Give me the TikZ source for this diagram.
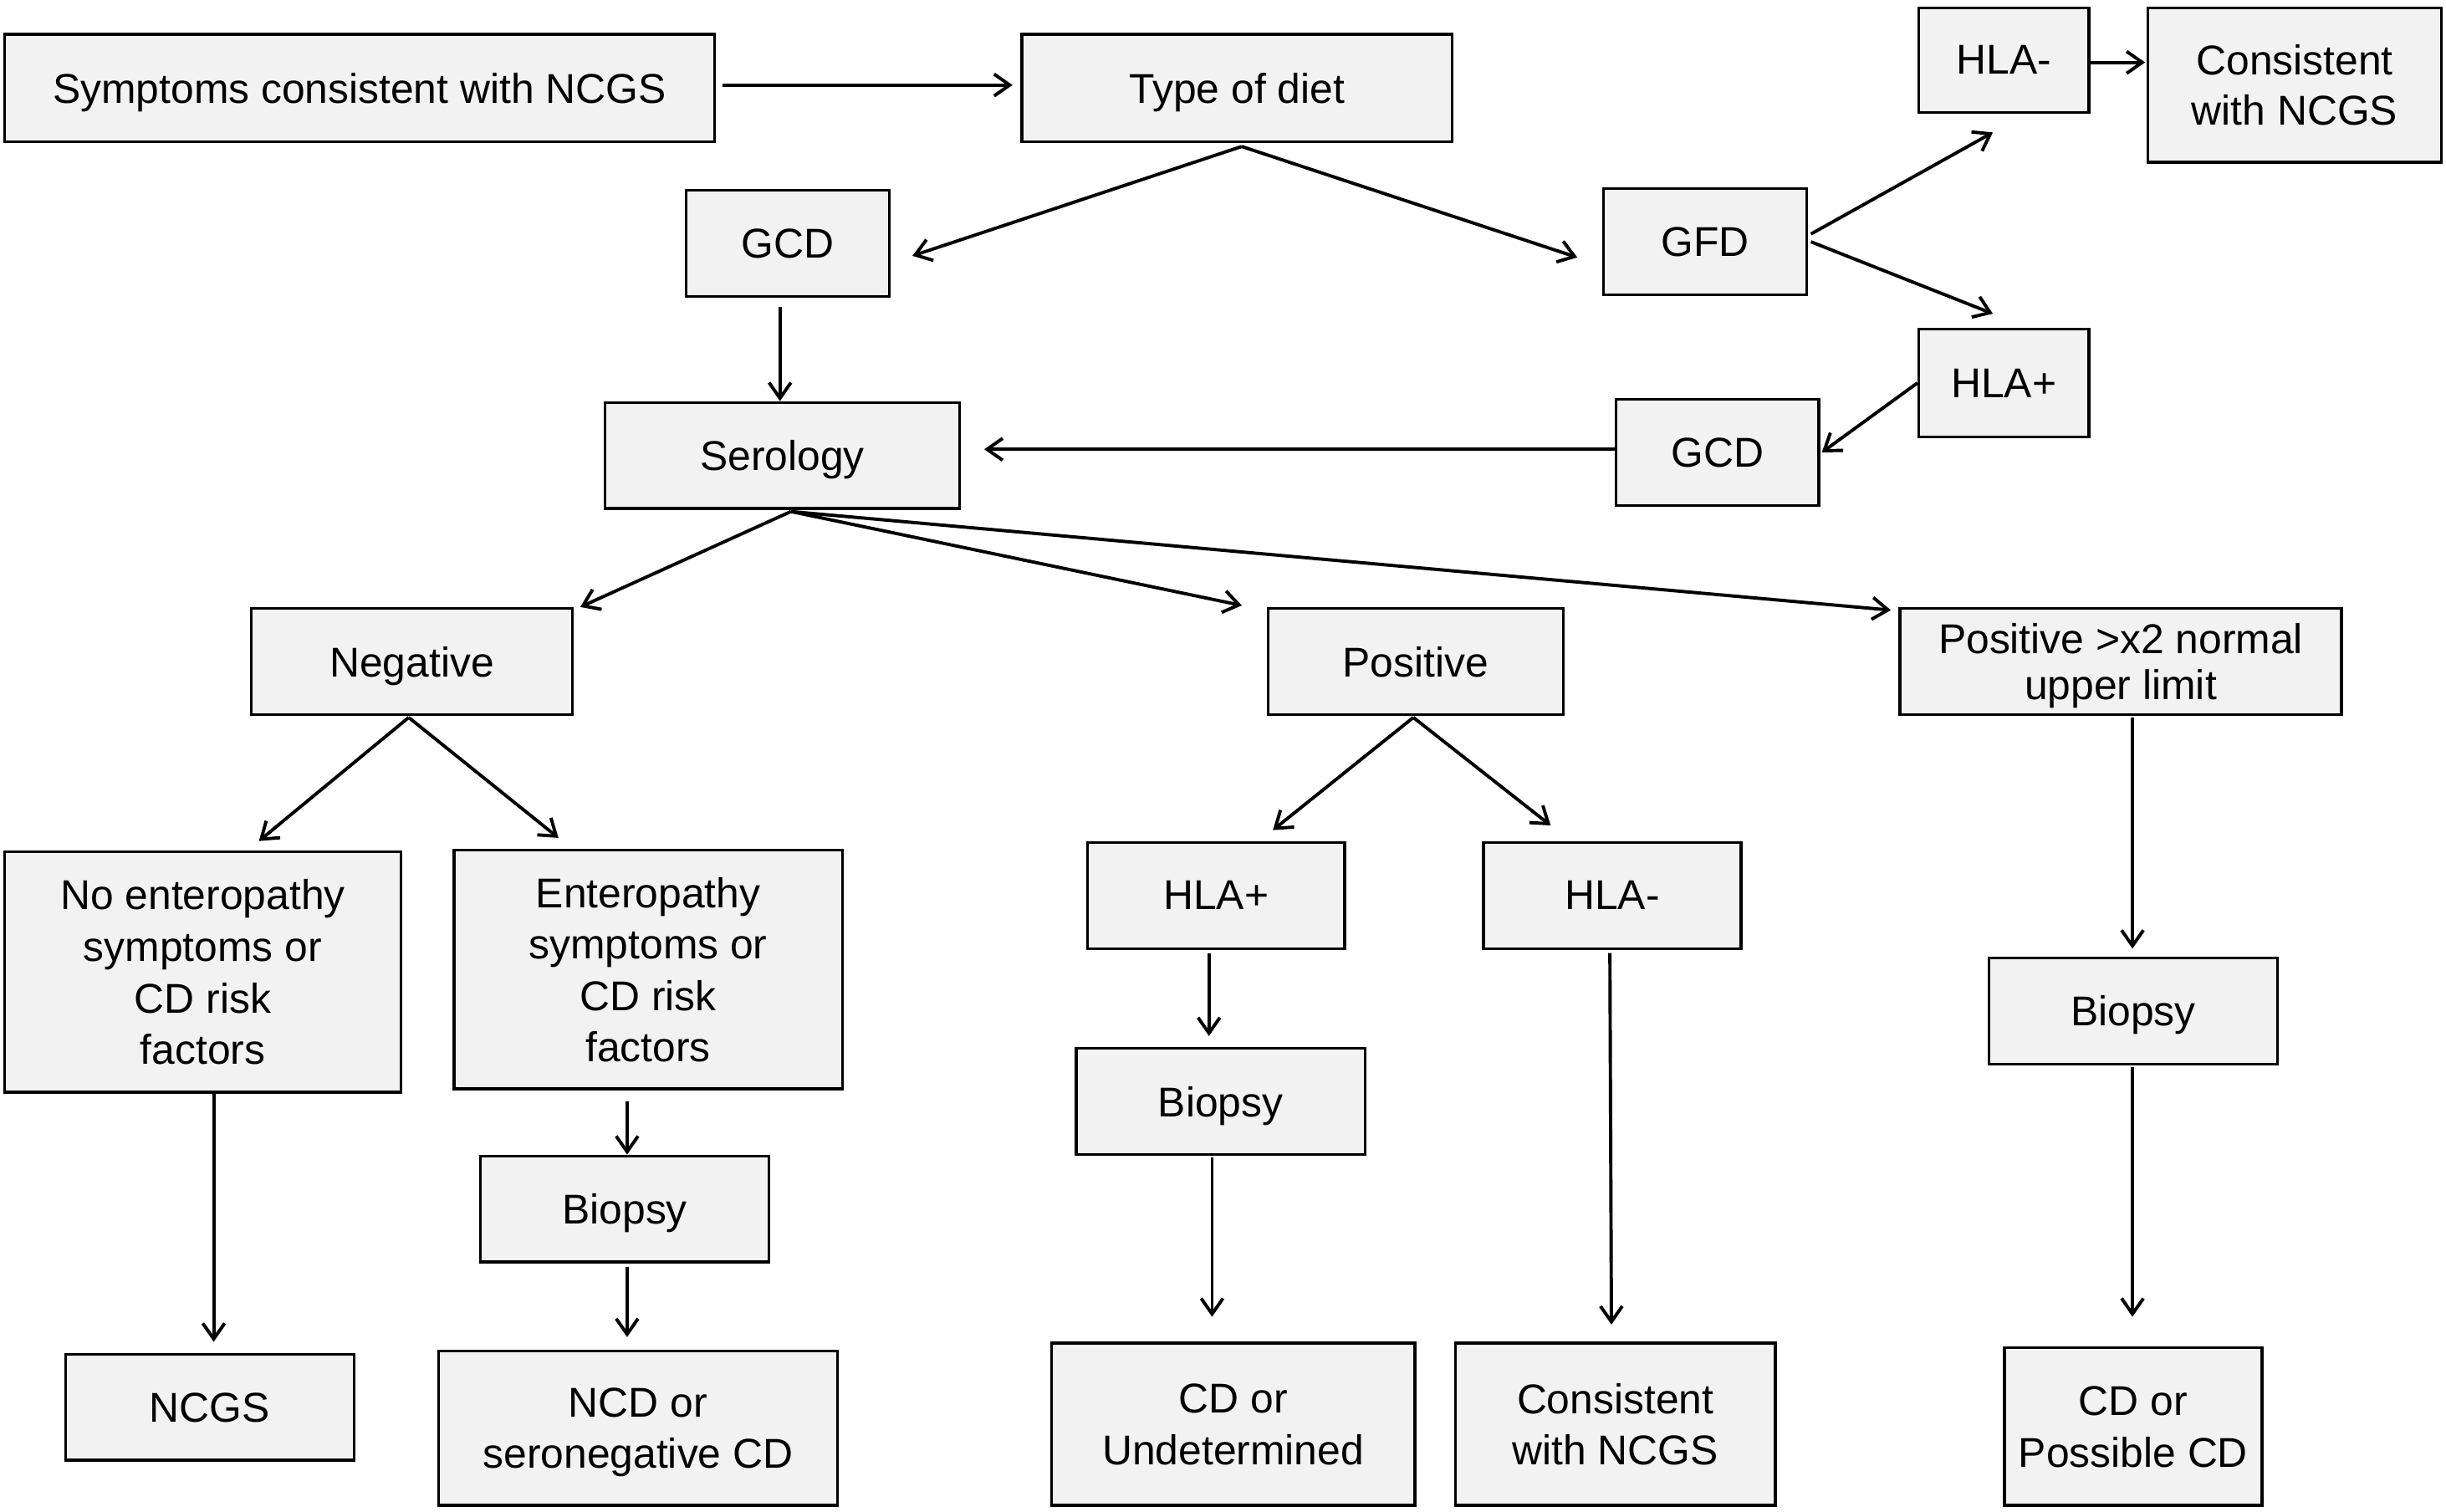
\documentclass[tikz,border=0pt]{standalone}
\usepackage{fontspec}
\setmainfont{Liberation Sans}
\usetikzlibrary{arrows.meta,calc}
\definecolor{boxgray}{RGB}{242,242,242}
\begin{document}
\begin{tikzpicture}[x=1pt,y=-1pt,
  box/.style={draw=black, fill=boxgray, line width=1.8pt, inner sep=0pt, align=center,
    text depth=0pt, font=\fontsize{26.7}{32}\selectfont},
  bigbox/.style={box, font=\fontsize{26.7}{33}\selectfont},
  arr/.style={line width=2.1pt, -{Straight Barb[length=10pt,width=14pt]}}]
\useasboundingbox (0,0) rectangle (1568,969);

\node[box, minimum width=455, minimum height=69] (symp) at (230.5,56.5) {Symptoms consistent with NCGS};
\node[box, minimum width=276, minimum height=69] (type) at (793,56.5) {Type of diet};
\node[box, minimum width=109, minimum height=67] (hlaa) at (1284.5,38.5) {HLA-};
\node[box, minimum width=188, minimum height=99] (cons1) at (1471,54.5) {Consistent\\with NCGS};
\node[box, minimum width=130, minimum height=68] (gcd1) at (505,156) {GCD};
\node[box, minimum width=130, minimum height=68] (gfd) at (1093,155) {GFD};
\node[box, minimum width=109, minimum height=69] (hlab) at (1284.5,245.5) {HLA+};
\node[box, minimum width=130, minimum height=68] (gcd2) at (1101,290) {GCD};
\node[box, minimum width=227, minimum height=68] (sero) at (501.5,292) {Serology};
\node[box, minimum width=206, minimum height=68] (neg) at (264,424) {Negative};
\node[box, minimum width=189, minimum height=68] (pos) at (907.5,424) {Positive};
\node[box, minimum width=283, minimum height=68, font=\fontsize{26.7}{30}\selectfont] (posx) at (1359.5,424) {Positive >x2 normal\\upper limit};
\node[bigbox, minimum width=254, minimum height=154] (noent) at (130,623) {No enteropathy\\symptoms or\\CD risk\\factors};
\node[bigbox, minimum width=249, minimum height=153] (ent) at (415.5,621.5) {Enteropathy\\symptoms or\\CD risk\\factors};
\node[box, minimum width=165, minimum height=68] (hlac) at (779.5,574) {HLA+};
\node[box, minimum width=165, minimum height=68] (hlad) at (1033.5,574) {HLA-};
\node[box, minimum width=185, minimum height=68] (bioR) at (1367.5,648) {Biopsy};
\node[box, minimum width=185, minimum height=68] (bioL) at (400.5,775) {Biopsy};
\node[box, minimum width=185, minimum height=68] (bioM) at (782.5,706) {Biopsy};
\node[box, minimum width=185, minimum height=68] (ncgs) at (134.5,902) {NCGS};
\node[bigbox, minimum width=256, minimum height=99] (ncd) at (409,915.5) {NCD or\\seronegative CD};
\node[bigbox, minimum width=233, minimum height=104] (cdu) at (790.5,913) {CD or\\Undetermined};
\node[bigbox, minimum width=205, minimum height=104] (cons2) at (1035.5,913) {Consistent\\with NCGS};
\node[bigbox, minimum width=165, minimum height=101] (cdp) at (1367.5,914.5) {CD or\\Possible CD};

\draw[arr] ($(symp.east)+(4,-2)$) -- ($(type.west)+(-5,-2)$);
\draw[arr] ($(type.south)+(3,2)$) -- ($(gcd1.east)+(14,8)$);
\draw[arr] ($(type.south)+(3,2)$) -- ($(gfd.west)+(-16,10)$);
\draw[arr] ($(gfd.east)+(2,-5)$) -- ($(hlaa.south)+(-7,12)$);
\draw[arr] ($(gfd.east)+(2,0)$) -- ($(hlab.north)+(-7,-9)$);
\draw[arr] (hlab.west) -- ($(gcd2.east)+(1,0)$);
\draw[arr] ($(hlaa.east)+(0,1.5)$) -- ($(cons1.west)+(-1,-14.5)$);
\draw[arr] ($(gcd2.west)+(0,-2)$) -- ($(sero.east)+(15,-4)$);
\draw[arr] ($(gcd1.south)+(-5,6)$) -- ($(sero.north)+(-1.5,0)$);
\draw[arr] ($(sero.south)+(5.5,1)$) -- ($(neg.north)+(108,0)$);
\draw[arr] ($(sero.south)+(5.5,1)$) -- ($(pos.north west)+(-16,-1)$);
\draw[arr] ($(sero.south)+(5.5,1)$) -- ($(posx.north west)+(-5,2)$);
\draw[arr] ($(neg.south)+(-2,1)$) -- ($(noent.north)+(36,-6)$);
\draw[arr] ($(neg.south)+(-2,1)$) -- ($(ent.north)+(-57.5,-7)$);
\draw[arr] ($(pos.south)+(-1.5,1)$) -- ($(hlac.north)+(36.5,-7)$);
\draw[arr] ($(pos.south)+(-1.5,1)$) -- ($(hlad.north)+(-39.5,-10)$);
\draw[arr] ($(posx.south)+(7.5,1)$) -- ($(bioR.north)+(-0.5,-5)$);
\draw[arr] ($(bioR.south)+(-0.5,1)$) -- ($(cdp.north)+(-0.5,-19)$);
\draw[arr] ($(hlac.south)+(-4.5,2)$) -- ($(bioM.north)+(-7.5,-7)$);
\draw[arr] ($(bioM.south)+(-5.5,1)$) -- ($(cdu.north)+(-13.5,-16)$);
\draw[arr] ($(hlad.south)+(-1.5,2)$) -- ($(cons2.north)+(-2.5,-11)$);
\draw[arr] ($(noent.south)+(7,0)$) -- ($(ncgs.north)+(2.5,-7)$);
\draw[arr] ($(ent.south)+(-13.5,7)$) -- ($(bioL.north)+(1.5,0)$);
\draw[arr] ($(bioL.south)+(1.5,2)$) -- ($(ncd.north)+(-7,-8)$);
\end{tikzpicture}
\end{document}
